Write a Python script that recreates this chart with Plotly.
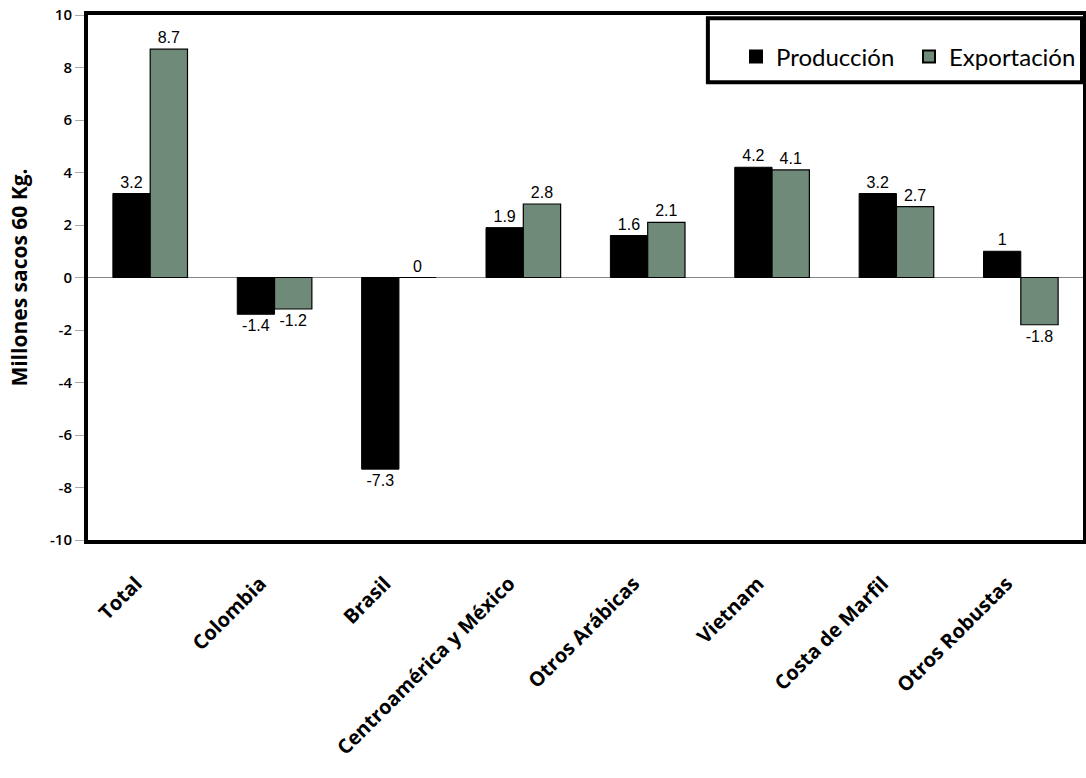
import plotly.graph_objects as go

categories = ["Total", "Colombia", "Brasil", "Centroamérica y México", "Otros Arábicas",
              "Vietnam", "Costa de Marfil", "Otros Robustas"]
produccion = [3.2, -1.4, -7.3, 1.9, 1.6, 4.2, 3.2, 1]
exportacion = [8.7, -1.2, 0, 2.8, 2.1, 4.1, 2.7, -1.8]
y_ticks = [-10, -8, -6, -4, -2, 0, 2, 4, 6, 8, 10]
y_ticktext = [str(v) for v in y_ticks]

label_font = dict(family="Liberation Sans, Arial", size=16, color="black")

fig = go.Figure()
fig.add_trace(go.Bar(
    name="Producción", x=categories, y=produccion,
    marker=dict(color="black", line=dict(color="black", width=1)),
    text=[f"{v:g}" for v in produccion], textposition="outside",
    textfont=label_font, cliponaxis=False,
))
fig.add_trace(go.Bar(
    name="Exportación", x=categories, y=exportacion,
    marker=dict(color="#6f8a79", line=dict(color="black", width=1.2)),
    text=[f"{v:g}" for v in exportacion], textposition="outside",
    textfont=label_font, cliponaxis=False,
))

# legend frame (thick black box like the original)
fig.add_shape(type="rect", xref="paper", yref="paper",
              x0=0.623, x1=0.999, y0=0.872, y1=0.994,
              line=dict(color="black", width=4), fillcolor="white", layer="above")

fig.update_layout(
    width=1086, height=778,
    margin=dict(l=88, r=3, t=15, b=238),
    paper_bgcolor="white", plot_bgcolor="white",
    barmode="group", bargap=0.4, bargroupgap=0,
    showlegend=True,
    legend=dict(
        orientation="h", x=0.999, xanchor="right", y=0.92, yanchor="middle",
        bgcolor="rgba(0,0,0,0)", borderwidth=0,
        font=dict(family="Lato", size=24, color="black"),
        itemsizing="constant", entrywidth=128,
    ),
    xaxis=dict(
        type="category", tickangle=-45, automargin=False,
        tickfont=dict(family="Open Sans", size=20, color="black", weight="bold"),
        ticklabelstandoff=20, ticklabelshift=-14,
        showline=True, linecolor="black", linewidth=4, mirror=True,
        ticks="", showgrid=False,
    ),
    yaxis=dict(
        range=[-10, 10], tickvals=y_ticks, ticktext=y_ticktext, automargin=False,
        tickfont=dict(family="Open Sans", size=15, color="black", weight=600),
        title=dict(text="Millones sacos 60 Kg.",
                   font=dict(family="Open Sans", size=21, color="black", weight="bold"),
                   standoff=18),
        showline=True, linecolor="black", linewidth=4, mirror=True,
        ticks="outside", ticklen=9, tickcolor="#aaaaaa",
        showgrid=False, zeroline=True, zerolinecolor="#888888", zerolinewidth=1,
    ),
)

fig.write_html("out.html")
